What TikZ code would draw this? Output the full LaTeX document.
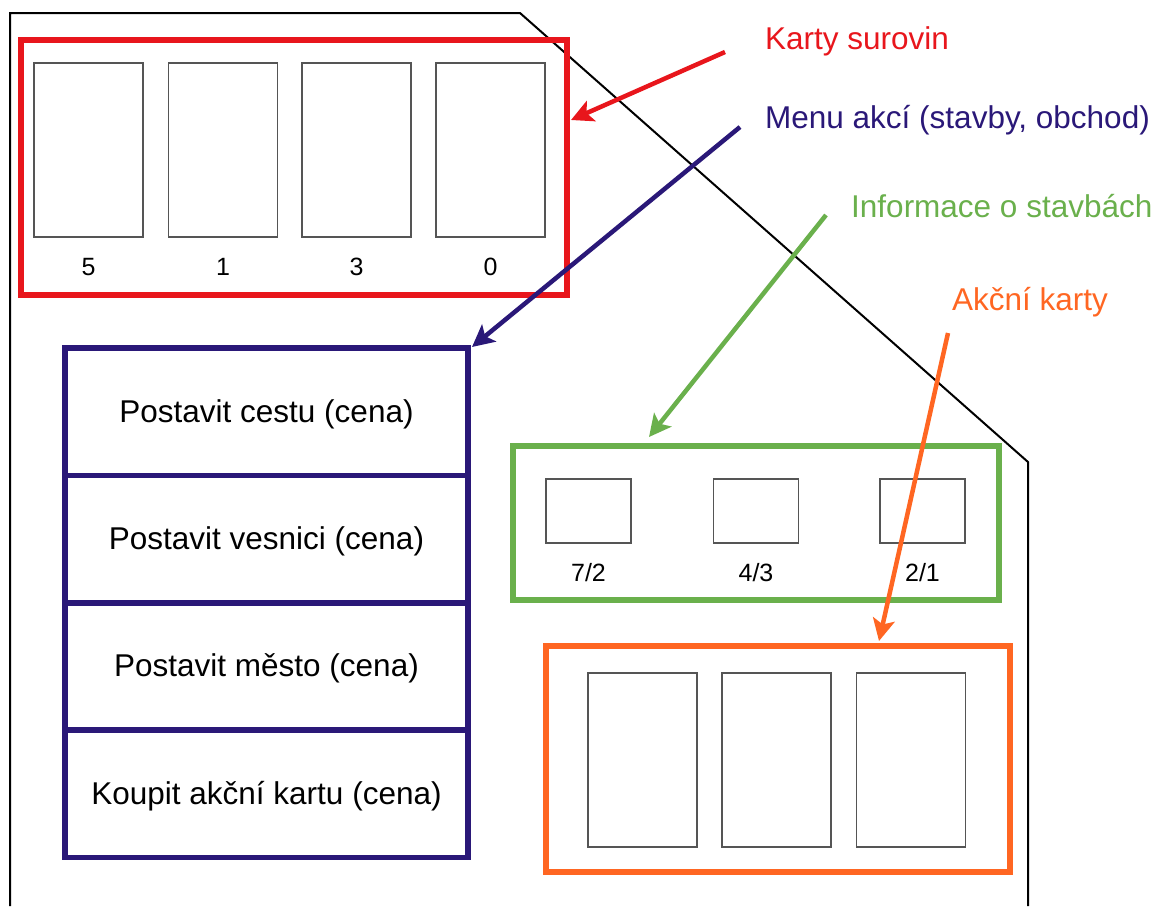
\documentclass[tikz,border=0pt]{standalone}
\usepackage{fontspec}
\setmainfont{Liberation Sans}
\usetikzlibrary{arrows.meta}
\definecolor{cardred}{RGB}{232,22,28}
\definecolor{menublue}{RGB}{42,24,120}
\definecolor{infogreen}{RGB}{106,176,76}
\definecolor{actorange}{RGB}{255,102,34}
\definecolor{cardgray}{RGB}{85,85,85}

\begin{document}
\begin{tikzpicture}[x=1pt,y=-1pt,
  frame/.style={draw, line width=5.5pt, inner sep=0pt, outer sep=0pt},
  card/.style={draw=cardgray, line width=1.4pt, inner sep=0pt,
               minimum width=109pt, minimum height=174pt},
  tile/.style={draw=cardgray, line width=1.4pt, inner sep=0pt,
               minimum width=85pt, minimum height=64pt},
  big/.style={font=\fontsize{31.5}{36}\selectfont},
  num/.style={font=\fontsize{25}{30}\selectfont, inner sep=0pt},
  menurow/.style={frame, draw=menublue, big, minimum width=403pt, minimum height=127.4pt,
                  text depth=2pt},
  caption/.style={big, anchor=base west, inner sep=0pt},
  pointer/.style={line width=4.5pt, -{Stealth[length=22pt,width=22pt,inset=5pt]}}
]
\useasboundingbox (0,0) rectangle (1157,906);

% board outline
\draw[line width=2pt, line join=miter] (10,906) -- (10,13) -- (520,13) -- (1028,462) -- (1028,906);

% resource cards
\node[frame, draw=cardred, minimum width=546pt, minimum height=255pt] (res) at (294,167.5) {};
\foreach \i/\x/\n in {1/88.5/5, 2/223/1, 3/356.5/3, 4/490.5/0} {
  \node[card] (rc\i) at (\x,150) {};
  \node[num] (rn\i) at (\x,267) {\n};
}

% action menu
\node[menurow] (m1) at (266.5,411.7) {Postavit cestu (cena)};
\node[menurow] (m2) at (266.5,539.1) {Postavit vesnici (cena)};
\node[menurow] (m3) at (266.5,666.5) {Postavit město (cena)};
\node[menurow] (m4) at (266.5,793.9) {Koupit akční kartu (cena)};

% building info
\node[frame, draw=infogreen, minimum width=486pt, minimum height=154pt] (info) at (756,523) {};
\foreach \i/\x/\n in {1/588.5/{7/2}, 2/756/{4/3}, 3/922.5/{2/1}} {
  \node[tile] (it\i) at (\x,511) {};
  \node[num] (in\i) at (\x,573) {\n};
}

% action cards
\node[frame, draw=actorange, minimum width=464pt, minimum height=226pt] (act) at (778,759) {};
\foreach \i/\x in {1/642.5, 2/776.5, 3/911} {
  \node[card] (ac\i) at (\x,760) {};
}

% captions
\node[caption, text=cardred]   (lres)  at (765,49)  {Karty surovin};
\node[caption, text=menublue]  (lmenu) at (765,128) {Menu akcí (stavby, obchod)};
\node[caption, text=infogreen] (linfo) at (851,217) {Informace o stavbách};
\node[caption, text=actorange] (lact)  at (952,310) {Akční karty};

% pointer ends
\coordinate (tres)  at (725,52);
\coordinate (tmenu) at (740,127);
\coordinate (tinfo) at (826,215);
\coordinate (tact)  at (948,333);
\coordinate (hres)  at (571,120);
\coordinate (hmenu) at (472,347);
\coordinate (hinfo) at (649,437);
\coordinate (hact)  at (879,641);

\draw[pointer, cardred]   (tres)  -- (hres);
\draw[pointer, menublue]  (tmenu) -- (hmenu);
\draw[pointer, infogreen] (tinfo) -- (hinfo);
\draw[pointer, actorange] (tact)  -- (hact);
\end{tikzpicture}
\end{document}
